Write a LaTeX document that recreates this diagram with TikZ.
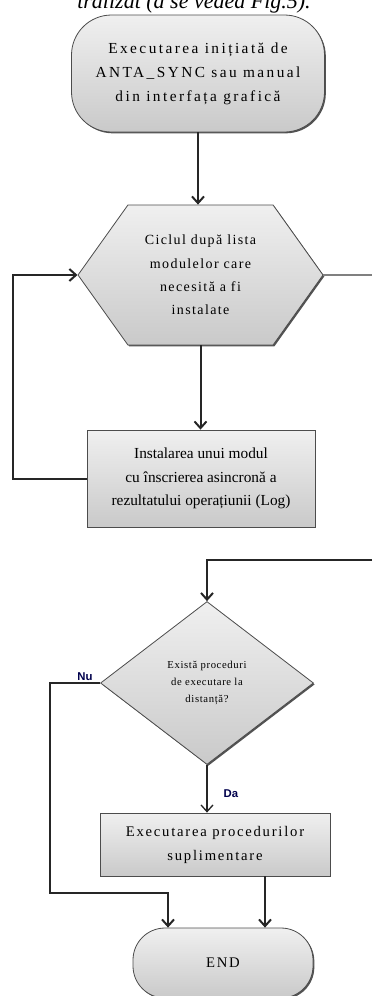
\documentclass[tikz,border=0pt]{standalone}
\usepackage{fontspec}
\setmainfont{Liberation Serif}
\setsansfont{Liberation Sans}
\usetikzlibrary{arrows.meta,shapes.geometric,shapes.symbols,shadows}

\begin{document}
\begin{tikzpicture}[x=.75pt,y=-.75pt,line width=1.5pt,
 fig/.style={draw=black!70,line width=.6pt,top color=gray!12,bottom color=gray!42,
   drop shadow={shadow xshift=1pt,shadow yshift=-1pt,fill=black!75,opacity=.9},
   align=center,inner sep=2pt,font=\fontsize{11}{18}\selectfont\addfontfeature{LetterSpace=12}},
 term/.style={fig,rounded corners=30pt},
 arr/.style={-{Straight Barb[length=5pt,width=9pt]},black!85},
 lbl/.style={font=\sffamily\bfseries\fontsize{8.5}{9}\selectfont,text=blue!30!black,inner sep=1pt}]
 \useasboundingbox (0,0) rectangle (372,996);
 \clip (0,0) rectangle (372,996);
 \node[anchor=base,inner sep=0pt,font=\itshape\fontsize{16.5}{17}\selectfont] (cap) at (194,8.5) {tralizat (a se vedea Fig.5).};

 % noduri
 \node[term,minimum width=189.75pt,minimum height=87.75pt,
   font=\fontsize{11.5}{18}\selectfont\addfontfeature{LetterSpace=16}] (start) at (198,73.5)
   {Executarea inițiată de\\ANTA\_SYNC sau manual\\din interfața grafică};
 \node[fig,signal,signal to=east and west,signal pointer angle=109,
   minimum width=183.75pt,minimum height=105pt,font=\fontsize{10.5}{17.5}\selectfont\addfontfeature{LetterSpace=10}] (hex) at (200.5,275)
   {Ciclul după lista\\modulelor care\\necesită a fi\\instalate};
 \node[fig,minimum width=171pt,minimum height=72.75pt,font=\fontsize{11.5}{17.6}\selectfont] (mod) at (201,478.5)
   {Instalarea unui modul\\cu înscrierea asincronă a\\rezultatului operațiunii (Log)};
 \node[fig,diamond,aspect=1.3,inner sep=0pt,minimum width=159.75pt,minimum height=122.25pt,
   font=\fontsize{8}{12.75}\selectfont\addfontfeature{LetterSpace=6}] (dist) at (207,683)
   {Există proceduri\\de executare la\\distanță?};
 \node[fig,minimum width=172.5pt,minimum height=47.25pt] (proc) at (215,844.5)
   {Executarea procedurilor\\suplimentare};
 \node[term,rounded corners=24pt,minimum width=135pt,minimum height=52.5pt] (fin) at (223,963) {END};

 % legaturi
 \coordinate (iesire) at (372,275);
 \coordinate (intrare) at (372,560);
 \coordinate (nu) at (50,893);
 \coordinate (nu2) at (168,893);
 \draw[arr] (start.south) -- (start.south |- hex.north);
 \draw[arr] (hex.south) -- (hex.south |- mod.north);
 \draw[arr] (mod.west) -- ++(-74,0) |- (hex.west);
 \draw[gray,line width=1pt] (hex.east) -- (iesire);
 \draw[arr] (intrare) -| (dist.north);
 \draw[arr] (dist.west) -| (nu) -- (nu2) -- (nu2 |- fin.north);
 \node[lbl,anchor=south east] at ([xshift=-4pt]dist.west) {Nu};
 \draw[arr,line width=1pt] (dist.south) -- (dist.south |- proc.north)
   node[lbl,pos=.6,anchor=west,xshift=11pt] {Da};
 \draw[arr] ([xshift=37.5pt]proc.south) -- ([xshift=37.5pt]proc.south |- fin.north);
\end{tikzpicture}
\end{document}
